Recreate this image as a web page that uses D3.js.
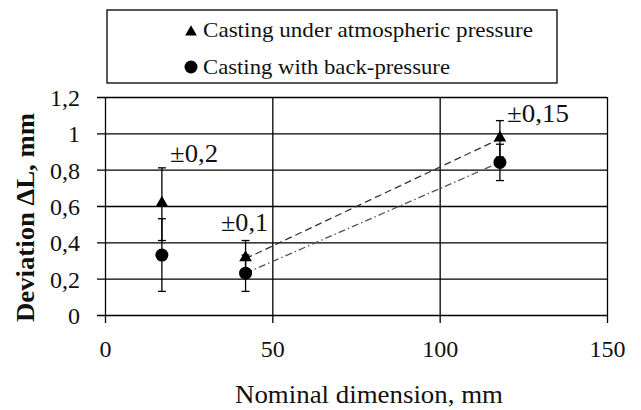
<html><head><meta charset="utf-8"></head>
<body style="margin:0">
<svg width="641" height="410"></svg>
<script src="https://d3js.org/d3.v7.min.js"></script>
<script>
    // data
    let nominal = [17, 42, 118];
    let atmospheric = [0.61, 0.31, 0.97];
    let backPressure = [0.33, 0.23, 0.84];
    let errors = [0.2, 0.1, 0.1];
    let errorLabels = ["±0,2", "±0,1", "±0,15"];
    let xTicks = [0, 50, 100, 150];
    let yTicks = [0, 0.2, 0.4, 0.6, 0.8, 1, 1.2];
    let legendNames = ["Casting under atmospheric pressure", "Casting with back-pressure"];

    let fontName = "'Liberation Serif'";
    let svg = d3.select("svg");
    let plotLeft = 105, plotRight = 607, plotTop = 97, plotBottom = 315;

    let x = d3.scaleLinear().domain([0, 150]).range([plotLeft, plotRight]);
    let y = d3.scaleLinear().domain([0, 1.2]).range([plotBottom, plotTop]);
    let fmt = d => String(d).replace(".", ",");

    // horizontal grid + y ticks
    svg.append("g")
        .attr("transform", `translate(${plotLeft},0)`)
        .call(d3.axisLeft(y).tickValues(yTicks).tickSizeOuter(0).tickFormat(fmt))
        .attr("font-family", null)
        .call(g => g.select(".domain").remove())
        .call(g => g.selectAll("line").attr("x1", -8).attr("x2", plotRight - plotLeft).attr("stroke", "#000").attr("stroke-width", 1.3))
        .call(g => g.selectAll("text").attr("x", -25).attr("dy", "0.35em")
            .attr("font-size", 24).style("font-family", fontName).attr("fill", "#111"));

    // vertical grid + x ticks
    svg.append("g")
        .attr("transform", `translate(0,${plotBottom})`)
        .call(d3.axisBottom(x).tickValues(xTicks).tickSizeOuter(0))
        .attr("font-family", null)
        .call(g => g.select(".domain").remove())
        .call(g => g.selectAll("line").attr("y1", -(plotBottom - plotTop)).attr("y2", 8).attr("stroke", "#000").attr("stroke-width", 1.3))
        .call(g => g.selectAll("text").attr("y", 42).attr("dy", null)
            .attr("font-size", 24).style("font-family", fontName).attr("fill", "#111"));

    // axis titles
    svg.append("text")
        .attr("x", 235).attr("y", 403)
        .attr("font-size", 25).style("font-family", fontName).attr("fill", "#111")
        .attr("textLength", 268).attr("lengthAdjust", "spacingAndGlyphs")
        .text("Nominal dimension, mm");
    svg.append("text")
        .attr("transform", `translate(34,322) rotate(-90)`)
        .attr("font-size", 25).attr("font-weight", "bold").style("font-family", fontName).attr("fill", "#111")
        .attr("textLength", 209).attr("lengthAdjust", "spacingAndGlyphs")
        .text("Deviation ΔL, mm");

    // trend lines between the 2nd and 3rd points
    let line = d3.line().x(d => x(d[0])).y(d => y(d[1]));
    svg.append("path")
        .attr("d", line([[nominal[1], atmospheric[1]], [nominal[2], atmospheric[2]]]))
        .attr("fill", "none").attr("stroke", "#333").attr("stroke-width", 1.3)
        .attr("stroke-dasharray", "7,4");
    svg.append("path")
        .attr("d", line([[nominal[1], backPressure[1]], [nominal[2], backPressure[2]]]))
        .attr("fill", "none").attr("stroke", "#555").attr("stroke-width", 1.3)
        .attr("stroke-dasharray", "7,3,1.5,3");

    // error bars
    let drawErr = (vals) => {
        nominal.forEach((n, i) => {
            [vals[i] + errors[i], vals[i] - errors[i]].forEach(v => {
                svg.append("line")
                    .attr("x1", x(n)).attr("x2", x(n)).attr("y1", y(vals[i])).attr("y2", y(v))
                    .attr("stroke", "#000").attr("stroke-width", 1.3);
                svg.append("line")
                    .attr("x1", x(n) - 4).attr("x2", x(n) + 4).attr("y1", y(v)).attr("y2", y(v))
                    .attr("stroke", "#000").attr("stroke-width", 1.3);
            });
        });
    };
    drawErr(atmospheric);
    drawErr(backPressure);

    // markers
    let tri = d3.symbol().type(d3.symbolTriangle).size(70);
    svg.selectAll(".tri")
        .data(nominal)
        .join("path")
        .attr("transform", (d, i) => `translate(${x(d)},${y(atmospheric[i]) - 1})`)
        .attr("d", tri)
        .attr("fill", "#000");
    svg.selectAll(".dot")
        .data(nominal)
        .join("circle")
        .attr("cx", d => x(d))
        .attr("cy", (d, i) => y(backPressure[i]))
        .attr("r", 6.5)
        .attr("fill", "#000");

    // error labels
    let labelPos = [[170, 162, 48], [221, 231, 47], [507, 122, 62]];
    svg.selectAll(".elab")
        .data(errorLabels)
        .join("text")
        .attr("x", (d, i) => labelPos[i][0])
        .attr("y", (d, i) => labelPos[i][1])
        .attr("textLength", (d, i) => labelPos[i][2]).attr("lengthAdjust", "spacingAndGlyphs")
        .attr("font-size", 25).style("font-family", fontName).attr("fill", "#111")
        .text(d => d);

    // legend
    svg.append("rect")
        .attr("x", 107).attr("y", 10).attr("width", 450).attr("height", 73)
        .attr("fill", "white").attr("stroke", "#000").attr("stroke-width", 1.3);
    svg.append("path")
        .attr("transform", "translate(191,32)")
        .attr("d", d3.symbol().type(d3.symbolTriangle).size(60))
        .attr("fill", "#000");
    svg.append("circle").attr("cx", 191).attr("cy", 67).attr("r", 6.5).attr("fill", "#000");
    let legendLen = [330, 247];
    legendNames.forEach((t, i) => {
        svg.append("text")
            .attr("x", 203).attr("y", 37 + i * 37)
            .attr("font-size", 22).style("font-family", fontName).attr("fill", "#111")
            .attr("textLength", legendLen[i]).attr("lengthAdjust", "spacingAndGlyphs")
            .text(t);
    });
</script>
</body></html>
